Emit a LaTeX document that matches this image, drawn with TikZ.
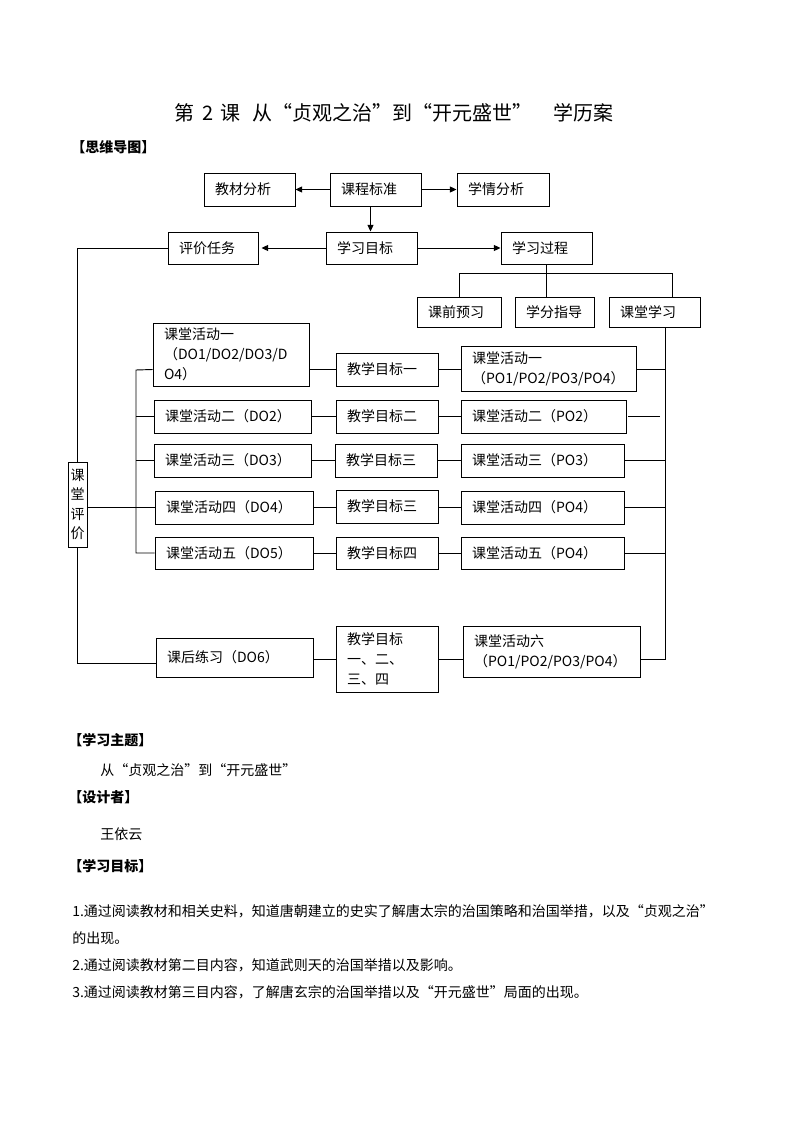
\documentclass[tikz,border=0pt]{standalone}
\usepackage{fontspec}
\setmainfont{Noto Sans CJK SC}
\usetikzlibrary{arrows.meta,calc}
\newcommand\bodyfont{\fontsize{10.5pt}{15pt}\selectfont}
\newcommand\mkbox[7][]{%
  \pgfmathsetmacro\bxw{(#5-#3)*0.75-16.5}%
  \pgfmathsetmacro\bxh{(#6-#4)*0.75}%
  \pgfmathsetmacro\bxcx{(#3+#5)/2}%
  \pgfmathsetmacro\bxcy{(#4+#6)/2}%
  \node[bx,#1,text width=\bxw pt,minimum height=\bxh pt] (#2) at (\bxcx,\bxcy) {#7};}
\tikzset{
  bx/.style={draw,line width=0.7pt,inner xsep=8.25pt,inner ysep=0pt,align=left,font=\bodyfont},
  ln/.style={line width=0.7pt},
  arr/.style={ln,-{Triangle[length=5pt,width=4.5pt]}},
  txt/.style={inner sep=0pt,anchor=west,font=\bodyfont},
  head/.style={txt,font=\bodyfont\bfseries}
}
\begin{document}
\begin{tikzpicture}[x=0.75pt,y=-0.75pt]
\useasboundingbox[fill=white] (0,0) rectangle (794,1123);
% title and heading
\node[inner sep=0pt,font=\fontsize{15pt}{18pt}\selectfont] (title) at (394,113) {第\hspace{6pt}2\hspace{5pt}课\hspace{9pt}从“贞观之治”到“开元盛世”\hspace{16pt}学历案};
\node[head] (h1) at (71,147) {【思维导图】};
% row 1
\mkbox{jcfx}{204}{173}{295}{206}{教材分析}
\mkbox{kcbz}{330}{173}{421}{206}{课程标准}
\mkbox{xqfx}{457}{173}{549}{206}{学情分析}
% row 2
\mkbox{pjrw}{168}{232}{258}{264}{评价任务}
\mkbox{xxmb}{326}{232}{417}{264}{学习目标}
\mkbox{xxgc}{501}{232}{592}{264}{学习过程}
% row 3
\mkbox{kqyx}{417}{297}{501}{327}{课前预习}
\mkbox{xfzd}{515}{297}{594}{327}{学分指导}
\mkbox{ktxx}{609}{297}{700}{327}{课堂学习}
% activities
\mkbox{do1}{153}{323}{309}{386}{课堂活动一\\（DO1/DO2/DO3/D\\O4）}
\mkbox{mb1}{336}{353}{438}{386}{教学目标一}
\mkbox{po1}{461}{346}{636}{391}{课堂活动一\\（PO1/PO2/PO3/PO4）}
\mkbox{do2}{154}{400}{311}{433}{课堂活动二（DO2）}
\mkbox{mb2}{336}{400}{438}{433}{教学目标二}
\mkbox{po2}{461}{400}{626}{433}{课堂活动二（PO2）}
\mkbox{do3}{154}{444}{311}{477}{课堂活动三（DO3）}
\mkbox{mb3}{335}{444}{437}{477}{教学目标三}
\mkbox{po3}{461}{444}{624}{477}{课堂活动三（PO3）}
\mkbox{do4}{155}{491}{313}{524}{课堂活动四（DO4）}
\mkbox{mb4}{336}{490}{438}{523}{教学目标三}
\mkbox{po4}{461}{491}{624}{524}{课堂活动四（PO4）}
\mkbox{do5}{155}{537}{313}{569}{课堂活动五（DO5）}
\mkbox{mb5}{336}{537}{438}{569}{教学目标四}
\mkbox{po5}{461}{537}{624}{569}{课堂活动五（PO4）}
\mkbox{do6}{156}{638}{313}{677}{课后练习（DO6）}
\mkbox{mb6}{336}{626}{438}{692}{教学目标\\一、二、\\三、四}
\mkbox{po6}{463}{626}{640}{677}{课堂活动六\\（PO1/PO2/PO3/PO4）}
\mkbox[align=center,inner xsep=0pt,font=\fontsize{10.5pt}{14.5pt}\selectfont]{kp}{57}{462}{98}{547}{课\\堂\\评\\价}
% coordinates
\coordinate (busL) at (459,273);
\coordinate (busR) at (672,273);
\coordinate (rv) at (665,327);
\coordinate (bk) at (136,370);
% arrows top
\draw[arr] (kcbz.west) -- (jcfx.east);
\draw[arr] (kcbz.east) -- (xqfx.west);
\draw[arr] ([xshift=-3.75pt]kcbz.south) -- ([xshift=-3.75pt]kcbz.south |- xxmb.north);
\draw[arr,shorten >=2.25pt] (xxmb.west) -- (pjrw.east);
\draw[arr] (xxmb.east) -- (xxgc.west);
% tree
\draw[ln] (xxgc.south) -- (xxgc.south |- busL);
\draw[ln] (kqyx.north) -- (kqyx.north |- busL) -- (busR) -- (busR |- ktxx.north);
\draw[ln] (xxgc.south |- busL) -- (xxgc.south |- xfzd.north);
% right vertical
\draw[ln] (ktxx.south -| rv) -- (rv |- mb6.east) -- (po6.east |- mb6.east);
% left frame
\draw[ln] (pjrw.west) -| (kp.north);
\draw[ln] (kp.south) |- ([yshift=-4.5pt]do6.west);
% bracket
\draw[ln] (do1.west |- mb1.west) -- (bk) -- (bk |- do5.west) -- (do5.west);
\draw[ln] (bk |- do2.west) -- (do2.west);
\draw[ln] (bk |- do3.west) -- (do3.west);
\draw[ln] (kp.east |- do4.west) -- (do4.west);
% rows
\draw[ln] (do1.east |- mb1.west) -- (mb1.west);
\draw[ln] (mb1.east) -- (mb1.east -| po1.west);
\draw[ln] (po1.east |- mb1.east) -- (mb1.east -| rv);
\draw[ln] (do2.east) -- (mb2.west);
\draw[ln] (mb2.east) -- (po2.west);
\draw[ln] ([xshift=1.5pt]po2.east) -- ([xshift=-4pt]po2.east -| rv);
\draw[ln] (do3.east) -- (do3.east -| mb3.west);
\draw[ln] (mb3.east) -- (mb3.east -| po3.west);
\draw[ln] (po3.east) -- (po3.east -| rv);
\draw[ln] (do4.east) -- (do4.east -| mb4.west);
\draw[ln] (mb4.east |- po4.west) -- (po4.west);
\draw[ln] (po4.east) -- (po4.east -| rv);
\draw[ln] (do5.east) -- (mb5.west);
\draw[ln] (mb5.east) -- (po5.west);
\draw[ln] (po5.east) -- (po5.east -| rv);
\draw[ln] (do6.east |- mb6.west) -- (mb6.west);
\draw[ln] (mb6.east) -- (mb6.east -| po6.west);
% lower text
\node[head] (h2) at (68,740) {【学习主题】};
\node[txt] (t2) at (100,770) {从“贞观之治”到“开元盛世”};
\node[head] (h3) at (68,797) {【设计者】};
\node[txt] (t3) at (100,834) {王依云};
\node[head] (h4) at (68,866) {【学习目标】};
\node[txt] (g1) at (72,911) {1.通过阅读教材和相关史料，知道唐朝建立的史实了解唐太宗的治国策略和治国举措，以及“贞观之治”};
\node[txt] (g1b) at (72,938) {的出现。};
\node[txt] (g2) at (72,965) {2.通过阅读教材第二目内容，知道武则天的治国举措以及影响。};
\node[txt] (g3) at (72,992) {3.通过阅读教材第三目内容，了解唐玄宗的治国举措以及“开元盛世”局面的出现。};
\end{tikzpicture}
\end{document}
